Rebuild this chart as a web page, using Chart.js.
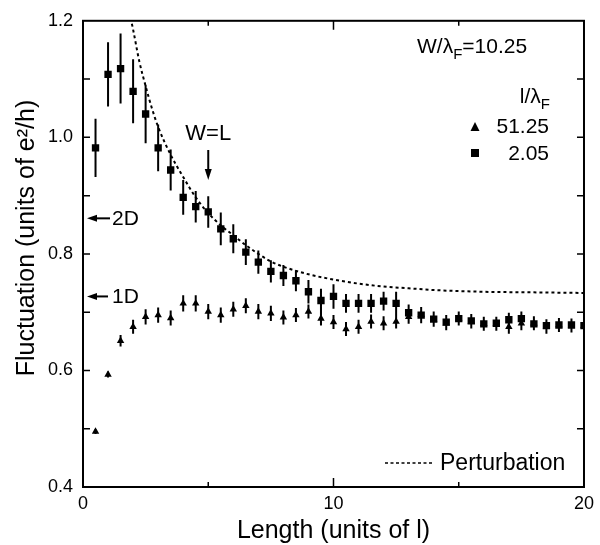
<!DOCTYPE html>
<html>
<head>
<meta charset="utf-8">
<script src="https://cdn.jsdelivr.net/npm/chart.js@4.4.0/dist/chart.umd.min.js"></script>
<style>
  html, body { margin: 0; padding: 0; background: #fff; }
  #wrap { width: 600px; height: 545px; }
</style>
</head>
<body>
<div id="wrap"><canvas id="chart"></canvas></div>
<script>
// Sample lengths (units of l)
const lengths = [0.5, 1.0, 1.5, 2.0, 2.5, 3.0, 3.5, 4.0, 4.5, 5.0,
                 5.5, 6.0, 6.5, 7.0, 7.5, 8.0, 8.5, 9.0, 9.5, 10.0,
                 10.5, 11.0, 11.5, 12.0, 12.5, 13.0, 13.5, 14.0, 14.5, 15.0,
                 15.5, 16.0, 16.5, 17.0, 17.5, 18.0, 18.5, 19.0, 19.5, 20.0];

// l/lambdaF = 2.05 (squares)
const sqY = [0.982, 1.108, 1.118, 1.079, 1.040, 0.982, 0.944, 0.897, 0.881, 0.872,
             0.843, 0.826, 0.803, 0.786, 0.770, 0.763, 0.754, 0.735, 0.720, 0.727,
             0.715, 0.715, 0.715, 0.719, 0.715, 0.699, 0.695, 0.688, 0.683, 0.689,
             0.685, 0.680, 0.681, 0.687, 0.689, 0.680, 0.677, 0.678, 0.678, 0.677];
const sqErr = [0.050, 0.055, 0.060, 0.055, 0.050, 0.040, 0.035, 0.030, 0.027, 0.027,
               0.028, 0.025, 0.022, 0.020, 0.019, 0.018, 0.018, 0.020, 0.020, 0.021,
               0.016, 0.016, 0.016, 0.016, 0.020, 0.014, 0.014, 0.013, 0.012, 0.012,
               0.012, 0.011, 0.011, 0.012, 0.012, 0.011, 0.011, 0.010, 0.010, 0.010];

// l/lambdaF = 51.25 (triangles)
const triY = [0.495, 0.593, 0.651, 0.675, 0.692, 0.695, 0.690, 0.715, 0.715, 0.701,
              0.695, 0.705, 0.711, 0.701, 0.698, 0.691, 0.695, 0.701, 0.689, 0.683,
              0.671, 0.675, 0.684, 0.681, 0.684, 0.692, 0.696, 0.687, 0.681, 0.689,
              0.684, 0.680, 0.680, 0.675, 0.681, 0.681, 0.675, 0.678, 0.677, 0.677];
const triErr = [0.004, 0.005, 0.010, 0.012, 0.013, 0.013, 0.013, 0.014, 0.014, 0.013,
                0.013, 0.013, 0.013, 0.013, 0.013, 0.012, 0.012, 0.012, 0.012, 0.012,
                0.012, 0.012, 0.012, 0.012, 0.012, 0.012, 0.012, 0.012, 0.012, 0.012,
                0.012, 0.012, 0.012, 0.012, 0.012, 0.012, 0.012, 0.012, 0.012, 0.012];

// Perturbation curve
const pertX = [1.9, 2.0, 2.25, 2.5, 2.75, 3.0, 3.5, 4.0, 4.5, 5.0, 5.5, 6.0, 6.5,
               7.0, 7.5, 8.0, 9.0, 10.0, 11.0, 12.0, 13.0, 14.0, 16.0, 18.0, 20.0];
const pertY = [1.205, 1.185, 1.130, 1.088, 1.050, 1.018, 0.970, 0.932, 0.897, 0.870, 0.849, 0.832, 0.815,
               0.800, 0.787, 0.778, 0.765, 0.756, 0.749, 0.744, 0.741, 0.738, 0.735, 0.734, 0.733];

// Axis ticks
const yLabels = [0.4, 0.6, 0.8, 1.0, 1.2];
const yTickMarks = [0.5, 0.6, 0.7, 0.8, 0.9, 1.0, 1.1];
const xTickMarks = [5, 10, 15];

const FONT = "'Liberation Sans', Arial, sans-serif";

function pts(xs, ys) {
    return xs.map((v, i) => ({ x: v, y: ys[i] }));
}

function arrow(ctx, x1, y1, x2, y2, head) {
    // line from (x1,y1) to tip (x2,y2)
    const a = Math.atan2(y2 - y1, x2 - x1);
    ctx.beginPath();
    ctx.moveTo(x1, y1);
    ctx.lineTo(x2 - Math.cos(a) * head * 0.8, y2 - Math.sin(a) * head * 0.8);
    ctx.stroke();
    ctx.beginPath();
    ctx.moveTo(x2, y2);
    ctx.lineTo(x2 - Math.cos(a) * head + Math.sin(a) * 3.5, y2 - Math.sin(a) * head - Math.cos(a) * 3.5);
    ctx.lineTo(x2 - Math.cos(a) * head - Math.sin(a) * 3.5, y2 - Math.sin(a) * head + Math.cos(a) * 3.5);
    ctx.closePath();
    ctx.fill();
}

// draws text with a subscript piece, returns end x
function subText(ctx, parts, x, y, size) {
    let cx = x;
    parts.forEach(p => {
        ctx.font = (p.sub ? Math.round(size * 0.72) : size) + 'px ' + FONT;
        ctx.fillText(p.t, cx, y + (p.sub ? size * 0.28 : 0));
        cx += ctx.measureText(p.t).width;
    });
    return cx;
}
function subWidth(ctx, parts, size) {
    let w = 0;
    parts.forEach(p => {
        ctx.font = (p.sub ? Math.round(size * 0.72) : size) + 'px ' + FONT;
        w += ctx.measureText(p.t).width;
    });
    return w;
}

const decor = {
    id: 'decor',
    beforeDatasetsDraw(chart) {
        const { ctx, scales: { x, y } } = chart;
        ctx.save();
        ctx.strokeStyle = '#000';
        ctx.lineWidth = 2;
        ctx.beginPath();
        lengths.forEach((L, i) => {
            const px = x.getPixelForValue(L);
            ctx.moveTo(px, y.getPixelForValue(sqY[i] - sqErr[i]));
            ctx.lineTo(px, y.getPixelForValue(sqY[i] + sqErr[i]));
            ctx.moveTo(px, y.getPixelForValue(triY[i] - triErr[i]));
            ctx.lineTo(px, y.getPixelForValue(triY[i] + triErr[i]));
        });
        ctx.stroke();
        ctx.restore();
    },
    afterDraw(chart) {
        const { ctx, chartArea: ca, scales: { x, y } } = chart;
        ctx.save();
        ctx.strokeStyle = '#000';
        ctx.fillStyle = '#000';

        // frame
        ctx.lineWidth = 2;
        ctx.strokeRect(ca.left, ca.top, ca.right - ca.left, ca.bottom - ca.top);

        // inner tick marks
        ctx.lineWidth = 1.5;
        ctx.beginPath();
        yTickMarks.forEach(v => {
            const py = y.getPixelForValue(v);
            ctx.moveTo(ca.left, py); ctx.lineTo(ca.left + 7, py);
            ctx.moveTo(ca.right, py); ctx.lineTo(ca.right - 7, py);
        });
        xTickMarks.forEach(v => {
            const px = x.getPixelForValue(v);
            const len = v === 10 ? 9 : 5;
            ctx.moveTo(px, ca.bottom); ctx.lineTo(px, ca.bottom - len);
            ctx.moveTo(px, ca.top); ctx.lineTo(px, ca.top + len);
        });
        ctx.stroke();

        // axis titles
        ctx.textBaseline = 'middle';
        ctx.textAlign = 'center';
        ctx.font = '25px ' + FONT;
        ctx.fillText('Length (units of l)', (ca.left + ca.right) / 2, 531);
        ctx.save();
        ctx.translate(27, 238);
        ctx.rotate(-Math.PI / 2);
        ctx.fillText('Fluctuation (units of e\u00B2/h)', 0, 0);
        ctx.restore();

        // W/lambdaF label
        ctx.textAlign = 'left';
        ctx.textBaseline = 'alphabetic';
        subText(ctx, [{ t: 'W/\u03BB' }, { t: 'F', sub: true }, { t: '=10.25' }], 417, 53, 21);

        // legend for symbols
        const lw = subWidth(ctx, [{ t: 'l/\u03BB' }, { t: 'F', sub: true }], 21);
        subText(ctx, [{ t: 'l/\u03BB' }, { t: 'F', sub: true }], 550 - lw, 103, 21);
        ctx.font = '21px ' + FONT;
        ctx.textAlign = 'right';
        ctx.fillText('51.25', 549, 133);
        ctx.fillText('2.05', 549, 160);
        ctx.beginPath();
        ctx.moveTo(475, 122); ctx.lineTo(479.5, 131); ctx.lineTo(470.5, 131);
        ctx.closePath(); ctx.fill();
        ctx.fillRect(471, 149, 8, 8);

        // W=L arrow
        ctx.textAlign = 'center';
        ctx.font = '22px ' + FONT;
        ctx.fillText('W=L', x.getPixelForValue(5), 140);
        ctx.lineWidth = 2;
        arrow(ctx, x.getPixelForValue(5), 150, x.getPixelForValue(5), 180, 11);

        // 2D / 1D arrows
        ctx.textAlign = 'left';
        ctx.textBaseline = 'middle';
        ctx.font = '21px ' + FONT;
        const y2d = y.getPixelForValue(0.861);
        const y1d = y.getPixelForValue(0.727);
        arrow(ctx, 110, y2d, ca.left + 4, y2d, 10);
        ctx.fillText('2D', 112, y2d + 1);
        arrow(ctx, 108, y1d, ca.left + 4, y1d, 10);
        ctx.fillText('1D', 112, y1d + 1);

        // perturbation key
        ctx.lineWidth = 1.5;
        ctx.setLineDash([3, 2.5]);
        ctx.beginPath();
        ctx.moveTo(385, 463); ctx.lineTo(433, 463);
        ctx.stroke();
        ctx.setLineDash([]);
        ctx.font = '23px ' + FONT;
        ctx.fillText('Perturbation', 440, 464);

        ctx.restore();
    }
};

const chart = new Chart(document.getElementById('chart').getContext('2d'), {
    type: 'scatter',
    data: {
        datasets: [
            {
                label: '2.05',
                data: pts(lengths, sqY),
                pointStyle: 'rect',
                pointRadius: 5.2,
                backgroundColor: '#000',
                borderColor: '#000',
                borderWidth: 0
            },
            {
                label: '51.25',
                data: pts(lengths, triY),
                pointStyle: 'triangle',
                pointRadius: 4.3,
                backgroundColor: '#000',
                borderColor: '#000',
                borderWidth: 0
            },
            {
                type: 'line',
                label: 'Perturbation',
                data: pts(pertX, pertY),
                borderColor: '#000',
                borderWidth: 2,
                borderDash: [3, 3],
                pointRadius: 0,
                fill: false,
                cubicInterpolationMode: 'monotone'
            }
        ]
    },
    options: {
        responsive: true,
        maintainAspectRatio: false,
        animation: false,
        events: [],
        layout: { padding: { top: 17, right: 16, bottom: 0, left: 0 } },
        plugins: {
            legend: { display: false },
            tooltip: { enabled: false }
        },
        scales: {
            x: {
                type: 'linear',
                min: 0,
                max: 20,
                grid: { display: false, drawTicks: false },
                border: { display: false },
                ticks: {
                    stepSize: 10,
                    padding: 6,
                    color: '#000',
                    font: { family: FONT, size: 18 }
                },
                afterFit: s => { s.height = 58; }
            },
            y: {
                type: 'linear',
                min: 0.4,
                max: 1.2,
                grid: { display: false, drawTicks: false },
                border: { display: false },
                afterBuildTicks: s => { s.ticks = yLabels.map(v => ({ value: v })); },
                ticks: {
                    padding: 10,
                    color: '#000',
                    font: { family: FONT, size: 18 },
                    callback: v => v.toFixed(1)
                },
                afterFit: s => { s.width = 83; }
            }
        }
    },
    plugins: [decor]
});
</script>
</body>
</html>
